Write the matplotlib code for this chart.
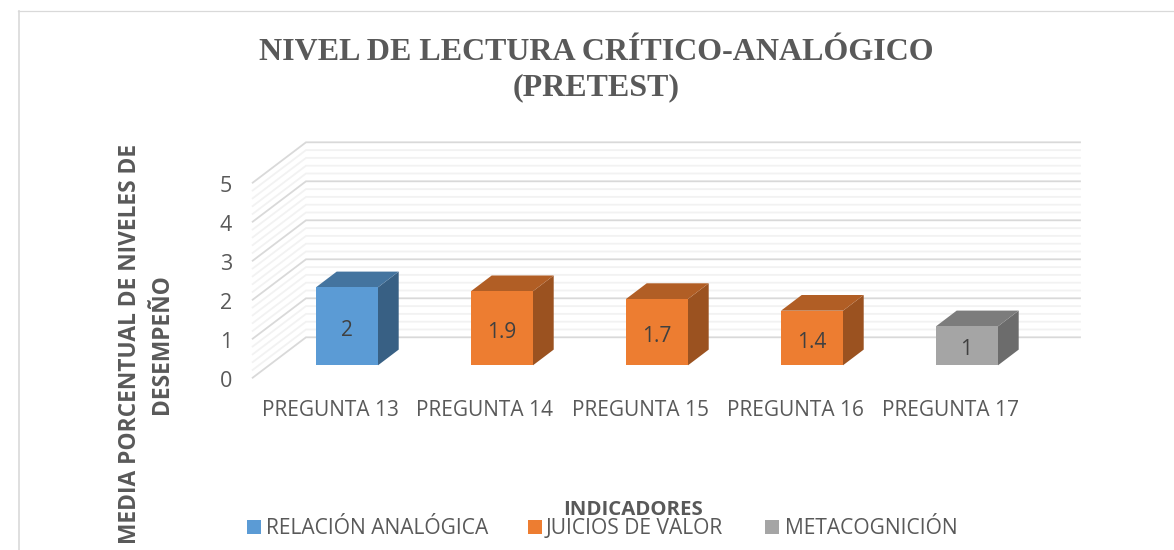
import matplotlib
matplotlib.use('Agg')
import matplotlib.pyplot as plt
from matplotlib.patches import Polygon, Rectangle

preguntas = ["PREGUNTA 13", "PREGUNTA 14", "PREGUNTA 15", "PREGUNTA 16", "PREGUNTA 17"]
valores = [2, 1.9, 1.7, 1.4, 1]
etiquetas = ["2", "1.9", "1.7", "1.4", "1"]
indicadores = ["RELACIÓN ANALÓGICA", "JUICIOS DE VALOR", "JUICIOS DE VALOR", "JUICIOS DE VALOR", "METACOGNICIÓN"]
leyenda = ["RELACIÓN ANALÓGICA", "JUICIOS DE VALOR", "METACOGNICIÓN"]
ticks_y = [0, 1, 2, 3, 4, 5]

# cara frontal, tapa, lateral
colores = {
    "RELACIÓN ANALÓGICA": ('#5b9bd5', '#44749f', '#386084'),
    "JUICIOS DE VALOR": ('#ed7d31', '#b15e25', '#9b5220'),
    "METACOGNICIÓN": ('#a5a5a5', '#7c7c7c', '#6c6c6c'),
}
texto = '#595959'

W, H = 1174, 550
fig = plt.figure(figsize=(W / 100, H / 100), dpi=100)
plt.rcParams['font.family'] = ['Open Sans', 'DejaVu Sans']

# fondo en pixeles para el marco y los textos
bg = fig.add_axes([0, 0, 1, 1])
bg.set_xlim(0, W)
bg.set_ylim(H, 0)
bg.axis('off')
bg.plot([19, 19], [H, 10.5], color='#d9d9d9', lw=1.2)
bg.plot([18, W], [10.5, 10.5], color='#d9d9d9', lw=0.9)

# ejes de datos: 155 px por categoria, 39 px por unidad, y=0 en el plano de las barras
PX_X, PX_Y = 155.0, 39.0
izq, der, arr, aba = 240, 1090, 130, 390
ax = fig.add_axes([izq / W, 1 - aba / H, (der - izq) / W, (aba - arr) / H])
ax.set_xlim((izq - 347) / PX_X, (der - 347) / PX_X)
ax.set_ylim((365.3 - aba) / PX_Y, (365.3 - arr) / PX_Y)
ax.axis('off')
ax.patch.set_alpha(0)

# pared: del frente (izquierda) al fondo
x_frente, x_fondo, x_fin = (252.7 - 347) / PX_X, (306 - 347) / PX_X, (1080 - 347) / PX_X
dy_frente, dy_fondo = -12.4 / PX_Y, 28.0 / PX_Y

for i in range(25, -1, -1):
    v = i / 5
    mayor = i % 5 == 0
    ax.plot([x_frente, x_fondo, x_fin], [v + dy_frente, v + dy_fondo, v + dy_fondo],
            color='#d9d9d9' if mayor else '#f2f2f2', lw=1.3, zorder=1 if mayor else 0.5,
            solid_joinstyle='miter')

ancho = 62 / PX_X
prof_x, prof_y = 20.7 / PX_X, 15.7 / PX_Y
for i, (v, ind) in enumerate(zip(valores, indicadores)):
    frente, tapa, lado = colores[ind]
    x0, x1 = i - ancho / 2, i + ancho / 2
    ax.add_patch(Polygon([(x1, 0), (x1 + prof_x, prof_y), (x1 + prof_x, v + prof_y), (x1, v)],
                         facecolor=lado, edgecolor='none', zorder=3))
    ax.add_patch(Polygon([(x0, v), (x1, v), (x1 + prof_x, v + prof_y), (x0 + prof_x, v + prof_y)],
                         facecolor=tapa, edgecolor='none', zorder=3))
    ax.add_patch(Rectangle((x0, 0), ancho, v, facecolor=frente, edgecolor='none', zorder=4))
    ax.text(i - 0.5 / PX_X, v / 2 - 4 / PX_Y, etiquetas[i], ha='center', va='center', fontsize=15,
            color='#404040', zorder=5)
    ax.text(i - 17 / PX_X, -45 / PX_Y, preguntas[i], ha='center', va='center', fontsize=15, color=texto)

for t in ticks_y:
    ax.text((226 - 347) / PX_X, t + dy_frente - 4 / PX_Y, str(t), ha='center', va='center', fontsize=15.5, color=texto)

# titulos
bg.text(596, 70, "NIVEL DE LECTURA CRÍTICO-ANALÓGICO\n(PRETEST)", ha='center', va='center',
        family=['Liberation Serif'], fontweight='bold', fontsize=23, color=texto, linespacing=1.28)
bg.text(146, 344, "MEDIA PORCENTUAL DE NIVELES DE\nDESEMPEÑO", rotation=90, ha='center', va='center',
        fontweight='bold', fontsize=16.4, color=texto, linespacing=1.5)
bg.text(633, 510, "INDICADORES", ha='center', va='center', fontweight='bold', fontsize=14.7, color=texto)

# leyenda
for x_caja, x_txt, nombre in zip([247, 528, 765], [266, 546, 785], leyenda):
    bg.add_patch(Rectangle((x_caja, 520), 14, 14, facecolor=colores[nombre][0], edgecolor='none'))
    bg.text(x_txt, 529, nombre, ha='left', va='center', fontsize=15.1, color=texto)

fig.savefig('out.png', dpi=100)
